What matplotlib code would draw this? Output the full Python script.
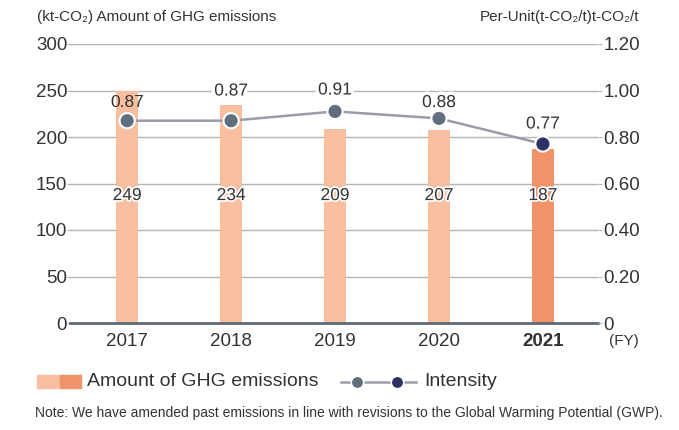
import matplotlib
matplotlib.use("Agg")
import matplotlib.pyplot as plt
import matplotlib.patheffects as pe
from matplotlib.patches import Rectangle
from matplotlib.lines import Line2D

plt.rcParams['font.family'] = ['Liberation Sans', 'DejaVu Sans']

years = ["2017", "2018", "2019", "2020", "2021"]
emissions = [249, 234, 209, 207, 187]
intensity = [0.87, 0.87, 0.91, 0.88, 0.77]
left_ticks = [0, 50, 100, 150, 200, 250, 300]
right_ticks = [0, 0.20, 0.40, 0.60, 0.80, 1.00, 1.20]
right_labels = ["0", "0.20", "0.40", "0.60", "0.80", "1.00", "1.20"]

bar_light = "#f7bf9f"
bar_dark = "#f0936a"
mk_light = "#5f6f7e"
mk_dark = "#2e3165"
line_col = "#9a9caa"
grid_col = "#b4b4b4"
text_col = "#333333"

fig = plt.figure(figsize=(6.79, 4.30), dpi=100)
ax = fig.add_axes([70/679, 1-323/430, 528/679, 279/430])
ax2 = ax.twinx()

x = list(range(len(years)))
colors = [bar_light]*(len(years)-1) + [bar_dark]
ax.bar(x, emissions, width=0.21, color=colors, zorder=2)
ax.set_xlim(-0.55, 4.53)
ax.set_ylim(0, 300)
ax.set_yticks(left_ticks)
ax.set_yticklabels([str(t) for t in left_ticks])
for t in left_ticks[1:]:
    ax.axhline(t, color=grid_col, lw=1.0, zorder=0.5)
for s in ["top", "right", "left"]:
    ax.spines[s].set_visible(False)
    ax2.spines[s].set_visible(False)
ax2.spines["bottom"].set_visible(False)
ax.spines["bottom"].set_color("#5d6b78")
ax.spines["bottom"].set_linewidth(2)
ax.spines["bottom"].set_zorder(5)
ax.tick_params(axis="y", length=2, color=grid_col, labelsize=13.5, labelcolor=text_col, pad=0)
ax.tick_params(axis="x", length=0, labelsize=13.5, labelcolor=text_col, pad=7)
ax.set_xticks(x)
ax.set_xticklabels(years)
ax.get_xticklabels()[-1].set_fontweight("bold")

halo = [pe.withStroke(linewidth=2.5, foreground="white")]
for xi, v in zip(x, emissions):
    ax.text(xi, 137, str(v), ha="center", va="center", fontsize=12.5,
            color=text_col, zorder=6, path_effects=halo)

ax2.set_ylim(0, 1.2)
ax2.set_yticks(right_ticks)
ax2.set_yticklabels(right_labels)
ax2.tick_params(axis="y", length=3, color=grid_col, labelsize=13.5, labelcolor=text_col, pad=1)
ax2.plot(x, intensity, color=line_col, lw=1.8, zorder=3)
mcols = [mk_light]*(len(years)-1) + [mk_dark]
ax2.scatter(x, intensity, s=120, c=mcols, edgecolors="white", linewidths=1.5, zorder=4)
offsets = [8, 16, 10, 6, 9]
halo_w = [0, 5, 5, 5, 5]
for xi, v, off, hw in zip(x, intensity, offsets, halo_w):
    t = ax2.annotate(f"{v:.2f}", (xi, v), xytext=(0, off), textcoords="offset points",
                     ha="center", va="bottom", fontsize=12.5, color=text_col, zorder=6)
    if hw:
        t.set_path_effects([pe.withStroke(linewidth=hw, foreground="white")])

fig.text(37/679, 1-17/430, "(kt-CO₂) Amount of GHG emissions", fontsize=11,
         color=text_col, ha="left", va="center")
fig.text(639/679, 1-17/430, "Per-Unit(t-CO₂/t)t-CO₂/t", fontsize=11,
         color=text_col, ha="right", va="center")
fig.text(609/679, 1-341/430, "(FY)", fontsize=11, color=text_col, ha="left", va="center")

# legend
fig.patches.append(Rectangle((37/679, 1-388/430), 23/679, 13/430, transform=fig.transFigure,
                             color=bar_light, figure=fig))
fig.patches.append(Rectangle((60/679, 1-388/430), 21/679, 13/430, transform=fig.transFigure,
                             color=bar_dark, figure=fig))
fig.text(87/679, 1-382/430, "Amount of GHG emissions", fontsize=14, color=text_col,
         ha="left", va="center")
fig.lines.append(Line2D([341/679, 416/679], [1-382/430]*2, transform=fig.transFigure,
                        color=line_col, lw=1.8, figure=fig))
fig.lines.append(Line2D([357/679], [1-382/430], transform=fig.transFigure, marker="o",
                        ms=9, mfc=mk_light, mec="white", mew=1.2, lw=0, figure=fig))
fig.lines.append(Line2D([397/679], [1-382/430], transform=fig.transFigure, marker="o",
                        ms=9, mfc=mk_dark, mec="white", mew=1.2, lw=0, figure=fig))
fig.text(424/679, 1-382/430, "Intensity", fontsize=14, color=text_col, ha="left", va="center")

fig.text(35/679, 1-413/430,
         "Note: We have amended past emissions in line with revisions to the Global Warming Potential (GWP).",
         fontsize=10, color=text_col, ha="left", va="center")

fig.savefig("out.png", dpi=100)
